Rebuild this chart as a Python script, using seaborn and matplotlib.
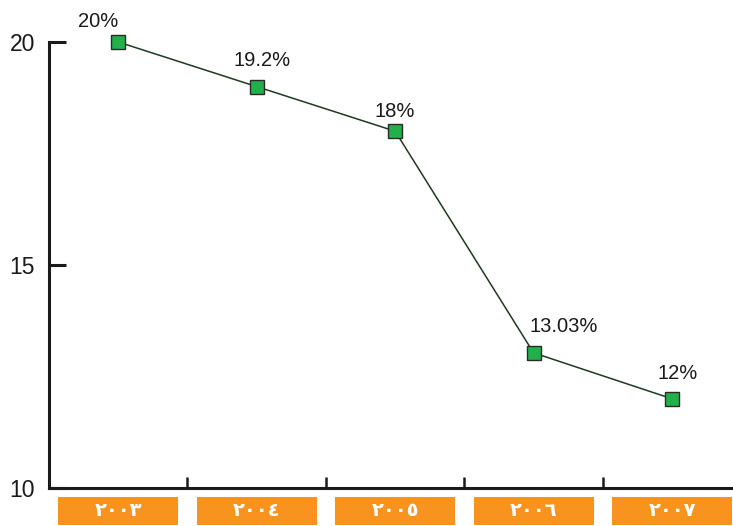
import matplotlib
matplotlib.use("Agg")
import matplotlib.pyplot as plt
from matplotlib.patches import Rectangle
import matplotlib.transforms as mtransforms
import seaborn as sns
import pandas as pd

# ---- data ----
years = ["2003", "2004", "2005", "2006", "2007"]
year_labels = ["٢٠٠٣", "٢٠٠٤", "٢٠٠٥", "٢٠٠٦", "٢٠٠٧"]
values = [20, 19, 18, 13.03, 12]
value_labels = ["20%", "19.2%", "18%", "13.03%", "12%"]
y_ticks = [10, 15, 20]

# label offsets in pixels (dx, dy to baseline)
label_offsets = [(-20, 15), (5, 21), (0, 14), (30, 21), (6, 20)]

sns.set_style("white")
plt.rcParams["font.family"] = ["Liberation Sans", "DejaVu Sans"]

fig = plt.figure(figsize=(7.33, 5.26), dpi=100)
ax = fig.add_axes([49 / 733, 38 / 526, (733 - 49) / 733, (488 - 42) / 526])

df = pd.DataFrame({"year": years, "value": values})
sns.lineplot(data=df, x="year", y="value", ax=ax, color="#1e3a20", linewidth=1.1,
             marker="s", markersize=10.5, markerfacecolor="#22b04b",
             markeredgecolor="#2a2a2a", markeredgewidth=1.0, zorder=3,
             clip_on=False)

ax.set_xlim(-0.5, 4.44)
ax.set_ylim(10, 20)
ax.set_xlabel("")
ax.set_ylabel("")

for s in ["top", "right"]:
    ax.spines[s].set_visible(False)
for s in ["left", "bottom"]:
    ax.spines[s].set_color("#1a1a1a")
    ax.spines[s].set_linewidth(2.2)

ax.set_yticks(y_ticks)
ax.set_yticklabels([str(t) for t in y_ticks])
ax.tick_params(axis="y", direction="in", length=12, width=2.2, color="#1a1a1a",
               labelsize=16.5, labelcolor="#1a1a1a", pad=10, left=True)
ax.set_xticks([0.5, 1.5, 2.5, 3.5])
ax.set_xticklabels([])
ax.tick_params(axis="x", direction="in", length=8, width=1.8, color="#1a1a1a", bottom=True)

for i, (v, lab, (dx, dy)) in enumerate(zip(values, value_labels, label_offsets)):
    ax.annotate(lab, xy=(i, v), xytext=(dx, dy), textcoords="offset pixels",
                ha="center", va="baseline", fontsize=14.5, color="#1a1a1a",
                annotation_clip=False)

trans = mtransforms.blended_transform_factory(ax.transData, ax.transAxes)
box_w = 120 / 138.5
for i, yl in enumerate(year_labels):
    r = Rectangle((i - box_w / 2, -37 / 446), box_w, 28 / 446, transform=trans,
                  facecolor="#f7931e", edgecolor="none", clip_on=False)
    ax.add_patch(r)
    ax.text(i, -23 / 446, yl, transform=trans, ha="center", va="center",
            fontsize=14, fontweight="bold", color="white",
            family=["DejaVu Sans"], clip_on=False)

fig.savefig("out.png", dpi=100)
